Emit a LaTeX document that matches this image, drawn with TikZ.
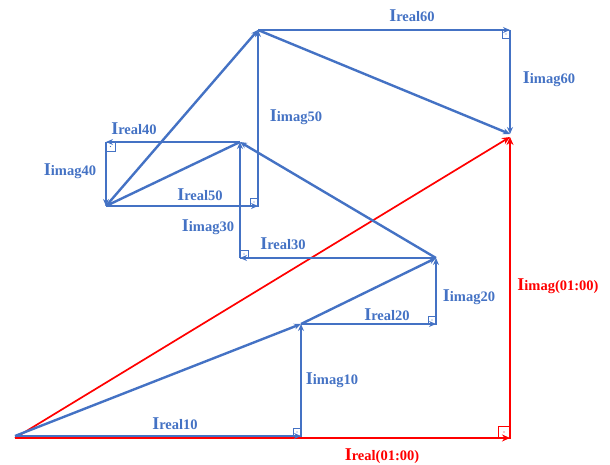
\documentclass[tikz,border=0pt]{standalone}
\usepackage{fontspec}
\setmainfont{Liberation Serif}
\usetikzlibrary{
    calc,
    arrows.meta
}
\definecolor{vecblue}{HTML}{4472C4}
\definecolor{vecred}{HTML}{FF0000}
\newcommand{\curlbl}[1]{{\fontsize{18}{18}\selectfont I}{\fontsize{14.5}{15}\selectfont #1}}
\tikzset{
  phasor/.style={
    vecblue,
    line width=2.4pt,
    -{Stealth[length=7pt,width=6pt]}
  },
  compo/.style={
    vecblue,
    line width=1.3pt,
    -{Stealth[length=7pt,width=6pt]}
  },
  total/.style={
    vecred,
    line width=1.7pt,
    -{Stealth[length=8pt,width=7pt]}
  },
  rmark/.style={
    line width=0.5pt
  },
  bluelbl/.style={
    text=vecblue,
    font=\bfseries,
    inner sep=1pt
  },
  redlbl/.style={
    text=vecred,
    font=\bfseries,
    inner sep=1pt
  }
}

\begin{document}
\begin{tikzpicture}[x=1pt,y=-1pt]
    \useasboundingbox (0,0) rectangle (610,465);

    % 各相量の終点と直角の角
    \coordinate (O)  at (15,436);
    \coordinate (P1) at (301,324);
    \coordinate (C1) at (301,436);
    \coordinate (P2) at (436,258);
    \coordinate (C2) at (436,324);
    \coordinate (P3) at (240,142);
    \coordinate (C3) at (240,258);
    \coordinate (P4) at (106,206);
    \coordinate (C4) at (106,142);
    \coordinate (P5) at (258,30);
    \coordinate (C5) at (258,206);
    \coordinate (P6) at (510,134);
    \coordinate (C6) at (510,30);
    \coordinate (OR) at (15,438);
    \coordinate (R)  at (510,137);
    \coordinate (CR) at (510,438);

    % 合成ベクトル (赤)
    \draw[total] (OR) -- (CR);
    \draw[total] (CR) -- (R);
    \draw[total] (OR) -- (R);
    \draw[rmark,vecred] (CR) rectangle ++(-12,-12);
    \fill[vecred] ($(CR)+(-6,-6)$) circle (0.7);

    % 実部と虚部 (青)
    \draw[compo] (O) -- (C1);
    \draw[compo] (C1) -- (P1);
    \draw[compo] (P1) -- (C2);
    \draw[compo] (C2) -- (P2);
    \draw[compo] (P2) -- (C3);
    \draw[compo] (C3) -- (P3);
    \draw[compo] (P3) -- (C4);
    \draw[compo] (C4) -- (P4);
    \draw[compo] (P4) -- (C5);
    \draw[compo] (C5) -- (P5);
    \draw[compo] (P5) -- (C6);
    \draw[compo] (C6) -- (P6);

    % 直角の印
    \foreach \c/\dx/\dy in {C1/-8/-8, C2/-8/-8, C3/8/-8, C4/9/9, C5/-8/-8, C6/-8/8} {
        \draw[rmark,vecblue] (\c) rectangle ++(\dx,\dy);
        \fill[vecblue] ($(\c)+(\dx/2,\dy/2)$) circle (0.6);
    }

    % 各時刻の相量
    \draw[phasor] (O) -- (P1);
    \draw[phasor] (P1) -- (P2);
    \draw[phasor] (P2) -- (P3);
    \draw[phasor] (P3) -- (P4);
    \draw[phasor] (P4) -- (P5);
    \draw[phasor] (P5) -- (P6);

    % ラベル
    \node[bluelbl] (re10) at (175,424) {\curlbl{real10}};
    \node[bluelbl] (im10) at (332,380) {\curlbl{imag10}};
    \node[bluelbl] (re20) at (387,315) {\curlbl{real20}};
    \node[bluelbl] (im20) at (469,297) {\curlbl{imag20}};
    \node[bluelbl] (re30) at (283,244) {\curlbl{real30}};
    \node[bluelbl] (im30) at (208,227) {\curlbl{imag30}};
    \node[bluelbl] (re40) at (134,129) {\curlbl{real40}};
    \node[bluelbl] (im40) at (70,171)  {\curlbl{imag40}};
    \node[bluelbl] (re50) at (200,195) {\curlbl{real50}};
    \node[bluelbl] (im50) at (296,117) {\curlbl{imag50}};
    \node[bluelbl] (re60) at (412,16)  {\curlbl{real60}};
    \node[bluelbl] (im60) at (549,79)  {\curlbl{imag60}};
    \node[redlbl] (reT) at (382,456) {\curlbl{real(01:00)}};
    \node[redlbl] (imT) at (558,286) {\curlbl{imag(01:00)}};
\end{tikzpicture}
\end{document}
